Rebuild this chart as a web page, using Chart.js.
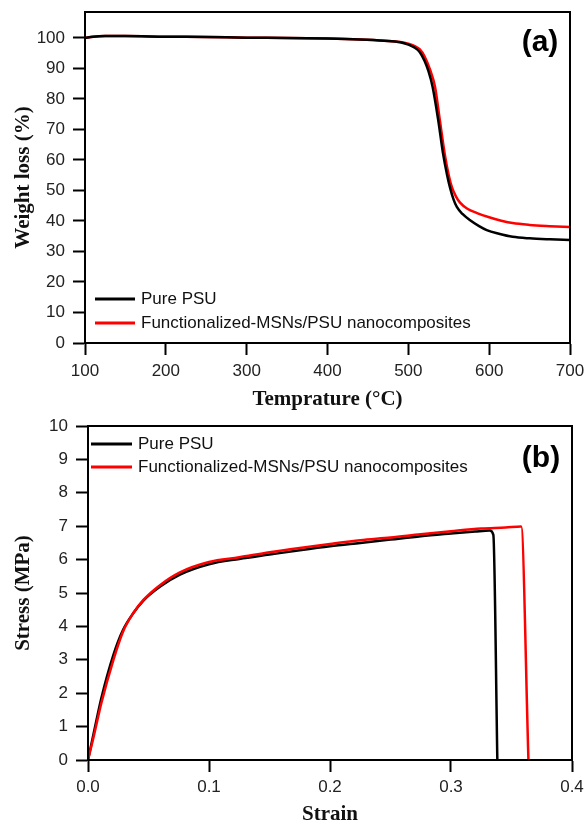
<!DOCTYPE html>
<html>
<head>
<meta charset="utf-8">
<script src="https://cdn.jsdelivr.net/npm/chart.js@4.4.1/dist/chart.umd.min.js"></script>
<style>
  html, body { margin: 0; padding: 0; background: #fff; }
  canvas { display: block; }
</style>
</head>
<body>
<canvas id="tga" width="585" height="415"></canvas>
<canvas id="stress" width="585" height="413"></canvas>
<script>
// (a) TGA curves
const psuTemp = [100, 110, 125, 150, 200, 250, 300, 350, 400, 440, 470, 490, 500, 508, 514, 520, 525, 530, 537, 543, 548, 551.5, 556, 560, 567, 576, 587, 597, 612, 629, 650, 675, 700];
const psuWeight = [100.0, 100.4, 100.6, 100.6, 100.4, 100.3, 100.1, 100.0, 99.8, 99.5, 99.1, 98.6, 97.8, 96.8, 95.4, 92.5, 89, 84, 73, 62, 55, 51, 47, 44.6, 42.3, 40.3, 38.4, 37, 35.8, 34.8, 34.3, 34.0, 33.8];
const msnTemp = [100, 110, 125, 150, 200, 250, 300, 350, 400, 440, 470, 490, 500, 508, 514, 520, 527, 533, 539, 545, 550, 554, 559, 564, 573, 585, 600, 615, 629, 650, 675, 700];
const msnWeight = [100.0, 100.4, 100.6, 100.6, 100.4, 100.3, 100.1, 100.0, 99.8, 99.5, 99.1, 98.7, 98.1, 97.3, 96.3, 94, 89.5, 84, 73, 62, 55, 51, 48, 46, 44, 42.6, 41.2, 40.1, 39.3, 38.7, 38.3, 38.0];

// (b) stress-strain curves
const psuStrain = [0, 0.005, 0.011, 0.021, 0.029, 0.0375, 0.046, 0.06, 0.076, 0.1, 0.125, 0.15, 0.175, 0.2, 0.225, 0.25, 0.275, 0.3, 0.32, 0.332, 0.335, 0.3383];
const psuStress = [0, 0.85, 1.85, 3.15, 3.9, 4.4, 4.78, 5.2, 5.55, 5.86, 6.02, 6.15, 6.28, 6.4, 6.5, 6.6, 6.7, 6.78, 6.84, 6.87, 6.74, 0];
const msnStrain = [0, 0.005, 0.011, 0.021, 0.029, 0.0375, 0.046, 0.06, 0.076, 0.1, 0.125, 0.15, 0.175, 0.2, 0.225, 0.25, 0.275, 0.3, 0.325, 0.345, 0.358, 0.364];
const msnStress = [0, 0.75, 1.7, 3.0, 3.85, 4.4, 4.8, 5.25, 5.62, 5.93, 6.07, 6.22, 6.35, 6.47, 6.58, 6.66, 6.76, 6.85, 6.93, 6.96, 6.99, 0];

const labels = ["Pure PSU", "Functionalized-MSNs/PSU nanocomposites"];
const tempTicks = [100, 200, 300, 400, 500, 600, 700];
const weightTicks = [0, 10, 20, 30, 40, 50, 60, 70, 80, 90, 100];
const strainTicks = [0, 0.1, 0.2, 0.3, 0.4];
const stressTicks = [0, 1, 2, 3, 4, 5, 6, 7, 8, 9, 10];

const sans = '"Liberation Sans", Arial, sans-serif';
const serif = '"Liberation Serif", "Times New Roman", serif';

const toXY = (xs, ys) => xs.map((x, i) => ({ x: x, y: ys[i] }));

// frame, in-plot legend and panel tag
const framePlugin = {
  id: 'frame',
  afterDatasetsDraw(chart, args, o) {
    const { ctx, chartArea: a } = chart;
    ctx.save();
    ctx.strokeStyle = '#000';
    ctx.lineWidth = 2;
    ctx.strokeRect(a.left, a.top, a.right - a.left, a.bottom - a.top);

    ctx.font = '17px ' + sans;
    ctx.textBaseline = 'middle';
    ctx.textAlign = 'left';
    chart.data.datasets.forEach((ds, i) => {
      const y = o.legendY[i];
      ctx.strokeStyle = ds.borderColor;
      ctx.lineWidth = 3;
      ctx.beginPath();
      ctx.moveTo(o.lineX[0], y);
      ctx.lineTo(o.lineX[1], y);
      ctx.stroke();
      ctx.fillStyle = '#111';
      ctx.fillText(ds.label, o.textX, y);
    });

    ctx.font = 'bold 30px ' + sans;
    ctx.textAlign = 'center';
    ctx.fillStyle = '#000';
    ctx.fillText(o.tag, o.tagX, o.tagY);
    ctx.restore();
  }
};

function axis(opts) {
  return Object.assign({
    type: 'linear',
    border: { display: true, color: '#000', width: 2 },
    grid: { display: true, drawOnChartArea: false, drawTicks: true, tickLength: 12, tickColor: '#000', tickWidth: 2 },
    ticks: { color: '#222', font: { family: sans, size: 17 }, padding: 8 },
  }, opts);
}

// fixed axis sizes, no extra label padding
const fitX = h => s => { s.height = h; s.paddingLeft = 0; s.paddingRight = 0; };
const fitY = w => s => { s.width = w; s.paddingTop = 0; s.paddingBottom = 0; };

new Chart(document.getElementById('tga'), {
  type: 'line',
  data: {
    datasets: [
      { label: labels[0], data: toXY(psuTemp, psuWeight), borderColor: '#000', borderWidth: 2.5, pointRadius: 0, cubicInterpolationMode: 'monotone' },
      { label: labels[1], data: toXY(msnTemp, msnWeight), borderColor: '#ff0000', borderWidth: 2.5, pointRadius: 0, cubicInterpolationMode: 'monotone' }
    ]
  },
  options: {
    responsive: false,
    animation: false,
    layout: { padding: { top: 12, right: 15, left: 0, bottom: 0 } },
    plugins: {
      legend: { display: false },
      tooltip: { enabled: false },
      frame: { legendY: [299, 323], lineX: [95, 135], textX: 141, tag: '(a)', tagX: 540, tagY: 43 }
    },
    scales: {
      x: axis({
        min: 100, max: 700,
        afterBuildTicks: s => { s.ticks = tempTicks.map(v => ({ value: v })); },
        afterFit: fitX(72),
        ticks: { color: '#222', font: { family: sans, size: 17 }, padding: 6 },
        title: { display: true, text: 'Temprature (°C)', color: '#111', font: { family: serif, size: 21, weight: 'bold' }, padding: 3 }
      }),
      y: axis({
        min: 0, max: 108.5,
        afterBuildTicks: s => { s.ticks = weightTicks.map(v => ({ value: v })); },
        afterFit: fitY(85),
        title: { display: true, text: 'Weight loss (%)', color: '#111', font: { family: serif, size: 21, weight: 'bold' }, padding: 11 }
      })
    }
  },
  plugins: [framePlugin]
});

new Chart(document.getElementById('stress'), {
  type: 'line',
  data: {
    datasets: [
      { label: labels[0], data: toXY(psuStrain, psuStress), borderColor: '#000', borderWidth: 2.5, pointRadius: 0, order: 1, cubicInterpolationMode: 'monotone' },
      { label: labels[1], data: toXY(msnStrain, msnStress), borderColor: '#ff0000', borderWidth: 2.5, pointRadius: 0, order: 0, cubicInterpolationMode: 'monotone' }
    ]
  },
  options: {
    responsive: false,
    animation: false,
    layout: { padding: { top: 11, right: 13, left: 0, bottom: 0 } },
    plugins: {
      legend: { display: false },
      tooltip: { enabled: false },
      frame: { legendY: [29, 52], lineX: [91, 132], textX: 138, tag: '(b)', tagX: 541, tagY: 44 }
    },
    scales: {
      x: axis({
        min: 0, max: 0.4,
        afterBuildTicks: s => { s.ticks = strainTicks.map(v => ({ value: v })); },
        afterFit: fitX(68),
        ticks: { color: '#222', font: { family: sans, size: 17 }, padding: 5, callback: v => v.toFixed(1) },
        title: { display: true, text: 'Strain', color: '#111', font: { family: serif, size: 21, weight: 'bold' }, padding: 1 }
      }),
      y: axis({
        min: 0, max: 10,
        afterBuildTicks: s => { s.ticks = stressTicks.map(v => ({ value: v })); },
        afterFit: fitY(88),
        title: { display: true, text: 'Stress (MPa)', color: '#111', font: { family: serif, size: 21, weight: 'bold' }, padding: 11 }
      })
    }
  },
  plugins: [framePlugin]
});
</script>
</body>
</html>
